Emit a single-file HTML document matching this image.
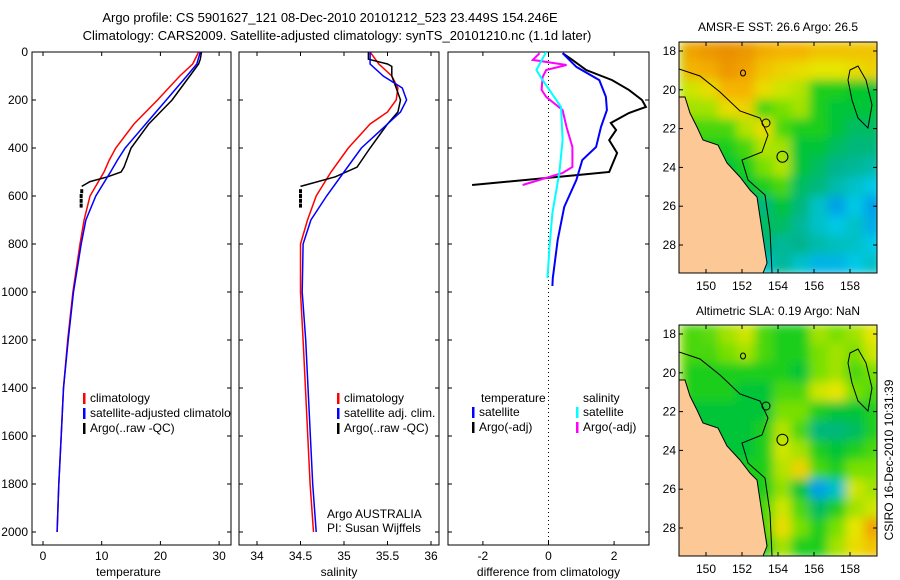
<!DOCTYPE html>
<html><head><meta charset="utf-8"><style>
html,body{margin:0;padding:0;background:#fff;}
svg{display:block;font-family:"Liberation Sans",sans-serif;}
text{font-size:12px;fill:#000;}
</style></head><body>
<svg id="fig" width="900" height="580" viewBox="0 0 900 580">
<defs>
<filter id="blur" x="0" y="0" width="1" height="1"><feGaussianBlur stdDeviation="5"/></filter>
<clipPath id="clip1"><rect x="32" y="52" width="199" height="493"/></clipPath>
<clipPath id="clip2"><rect x="239" y="52" width="200" height="493"/></clipPath>
<clipPath id="clip3"><rect x="448" y="52" width="201" height="493"/></clipPath>
<clipPath id="mclip1"><rect x="679" y="42" width="198" height="231"/></clipPath>
<clipPath id="mclip2"><rect x="679" y="325" width="198" height="231"/></clipPath>
</defs>
<text x="330" y="22" text-anchor="middle" style="font-size:13px">Argo profile: CS 5901627_121 08-Dec-2010 20101212_523 23.449S 154.246E</text>
<text x="337" y="40" text-anchor="middle" style="font-size:13px">Climatology: CARS2009. Satellite-adjusted climatology: synTS_20101210.nc (1.1d later)</text>
<text x="778" y="31" text-anchor="middle">AMSR-E SST: 26.6 Argo: 26.5</text>
<text x="778" y="315" text-anchor="middle">Altimetric SLA: 0.19 Argo: NaN</text>
<text transform="translate(893,460) rotate(-90)" text-anchor="middle">CSIRO 16-Dec-2010 10:31:39</text>
<g id="g1"></g>
<g id="g2"></g>
<g id="g3"></g>
<g id="m1"></g>
<g id="m2"></g>
</svg>
<script>
// ---- profile data ----
const tDepthClim = [0,50,100,200,300,400,450,500,600,700,800,1000,1200,1400,1600,1800,2000];
const tempClim   = [26.5,25.5,23.3,19.5,15.5,12.4,11.3,10.4,8,7,6.3,5.1,4.2,3.5,3.1,2.7,2.4];
const tempSat    = [26.8,26.2,24.5,21,17.5,14,12.7,11.5,9,7.3,6.5,5.2,4.3,3.5,3.1,2.7,2.4];
const tArgoDepth = [0,30,50,100,150,200,250,300,400,480,500,520,540,560];
const tempArgo   = [27,26.8,26.5,25,23.5,22,20,18,15,13.8,13.3,11,8,6.6];
const argoDotDepth = [580,600,620,640];
const tempArgoDots = [6.6,6.5,6.5,6.5];
const salClim  = [35.3,35.4,35.55,35.62,35.6,35.5,35.3,35.05,34.85,34.68,34.58,34.5,34.5,34.53,34.57,34.61,34.65];
const salSat   = [35.3,35.3,35.45,35.67,35.72,35.65,35.5,35.2,35.0,34.8,34.62,34.53,34.52,34.56,34.6,34.64,34.68];
const sDepth   = [0,50,100,150,200,250,300,400,500,600,700,800,1000,1200,1500,1800,2000];
const sArgoDepth = [0,30,50,60,100,150,200,250,300,400,480,520,550,560];
const salArgo  = [35.28,35.28,35.5,35.55,35.55,35.6,35.65,35.62,35.5,35.3,35.15,34.9,34.6,34.5];
const salArgoDots = [34.5,34.5,34.5,34.5];
const dTSatDepth = [5,62,117,187,242,312,396,450,533,646,783,942,975];
const dTSat      = [0.43,0.85,1.55,1.75,1.78,1.6,1.45,1.03,0.85,0.48,0.28,0.13,0.12];
const dTArgoDepth= [5,33,75,117,158,200,229,254,296,325,367,421,500,512,554];
const dTArgo     = [0.43,0.73,1.15,1.94,2.45,2.85,2.97,2.45,1.9,2.06,1.85,2.09,1.85,0.94,-2.33];
const dSSatDepth = [0,75,117,229,367,504,671,812,942];
const dSSat      = [-0.07,-0.37,-0.18,0.38,0.43,0.33,0.12,0.03,-0.03];
const dSArgoDepth= [5,33,54,75,104,158,187,242,312,396,479,504,554];
const dSArgo     = [-0.27,-0.48,0.55,-0.07,-0.18,-0.21,-0.07,0.43,0.55,0.73,0.73,0.43,-0.79];
const depthTicks = [0,200,400,600,800,1000,1200,1400,1600,1800,2000];
const tempTicks = [0,10,20,30];
const salTicks = [34,34.5,35,35.5,36];
const diffTicks = [-2,0,2];
// ---- map data ----
const lonTicks = [150,152,154,156,158];
const latTicks = [18,20,22,24,26,28];
const sstGrid = [
[0.92,0.95,0.97,0.95,0.9,0.88,0.88,0.85,0.85,0.85,0.85],
[0.88,0.9,0.95,0.92,0.85,0.82,0.8,0.78,0.78,0.8,0.82],
[0.75,0.8,0.88,0.88,0.8,0.75,0.72,0.55,0.55,0.52,0.5],
[0.7,0.7,0.8,0.82,0.6,0.65,0.7,0.55,0.5,0.5,0.5],
[0.6,0.6,0.6,0.72,0.8,0.6,0.55,0.55,0.5,0.45,0.45],
[0.55,0.55,0.55,0.6,0.72,0.7,0.5,0.5,0.45,0.42,0.42],
[0.5,0.5,0.5,0.55,0.65,0.72,0.5,0.45,0.4,0.38,0.35],
[0.5,0.5,0.5,0.5,0.55,0.6,0.45,0.42,0.35,0.3,0.25],
[0.42,0.42,0.42,0.42,0.42,0.5,0.42,0.3,0.15,0.25,0.15],
[0.45,0.45,0.45,0.45,0.45,0.45,0.38,0.3,0.25,0.3,0.18],
[0.42,0.42,0.42,0.42,0.42,0.38,0.4,0.35,0.32,0.3,0.25],
[0.3,0.3,0.3,0.3,0.3,0.38,0.3,0.2,0.2,0.25,0.3]];
const slaGrid = [
[0.6,0.62,0.7,0.75,0.6,0.55,0.55,0.7,0.65,0.7,0.78],
[0.6,0.6,0.65,0.7,0.6,0.55,0.55,0.65,0.7,0.65,0.75],
[0.55,0.55,0.55,0.55,0.55,0.55,0.5,0.65,0.7,0.6,0.65],
[0.55,0.55,0.55,0.5,0.5,0.6,0.6,0.75,0.78,0.65,0.6],
[0.5,0.5,0.5,0.5,0.5,0.65,0.65,0.55,0.5,0.5,0.55],
[0.5,0.5,0.5,0.5,0.55,0.72,0.6,0.42,0.42,0.45,0.55],
[0.5,0.5,0.5,0.5,0.55,0.75,0.7,0.55,0.5,0.55,0.6],
[0.55,0.55,0.55,0.55,0.55,0.72,0.82,0.6,0.55,0.65,0.65],
[0.55,0.55,0.55,0.55,0.55,0.68,0.5,0.15,0.3,0.75,0.7],
[0.6,0.6,0.6,0.6,0.6,0.75,0.6,0.45,0.55,0.7,0.75],
[0.6,0.6,0.6,0.6,0.6,0.8,0.65,0.55,0.65,0.78,0.92],
[0.55,0.55,0.55,0.55,0.55,0.7,0.55,0.55,0.7,0.8,0.85]];
const floatLon = 154.246, floatLat = 23.449;

const NS="http://www.w3.org/2000/svg";
function mk(parent, tag, attrs){const e=document.createElementNS(NS,tag);for(const k in attrs)e.setAttribute(k,attrs[k]);parent.appendChild(e);return e;}
const yD = d => 52 + d*0.24;

function panel(gid, x0, x1, xs, ticks, label, fmt, showDepth, clip){
  const g=document.getElementById(gid);
  const frame=mk(g,'rect',{x:x0,y:52,width:x1-x0,height:493,fill:'none',stroke:'#000','stroke-width':1});
  
  
  depthTicks.forEach(d=>{
    mk(g,'line',{x1:x0,x2:x0+4,y1:yD(d),y2:yD(d),stroke:'#000'});
    mk(g,'line',{x1:x1-4,x2:x1,y1:yD(d),y2:yD(d),stroke:'#000'});
    if(showDepth){const t=mk(g,'text',{x:x0-4,y:yD(d)+4,'text-anchor':'end'});t.textContent=d;
      
      }
  });
  ticks.forEach(v=>{
    const x=xs(v);
    mk(g,'line',{x1:x,x2:x,y1:545,y2:541,stroke:'#000'});
    mk(g,'line',{x1:x,x2:x,y1:52,y2:56,stroke:'#000'});
    const t=mk(g,'text',{x:x,y:560,'text-anchor':'middle'});t.textContent=fmt(v);
    
    
  });
  const l=mk(g,'text',{x:(x0+x1)/2+(gid==='g1'?-3:0),y:576,'text-anchor':'middle'});l.textContent=label;
  
  
  const inner=mk(g,'g',{'clip-path':'url(#'+clip+')'});
  return inner;
}
function line(g, xs, vals, depths, color, w, name){
  const pts=vals.map((v,i)=>xs(v).toFixed(1)+','+yD(depths[i]).toFixed(1)).join(' ');
  const p=mk(g,'polyline',{points:pts,fill:'none',stroke:color,'stroke-width':w});
  
  
}
function dots(g, xs, vals, depths, color, name){
  vals.forEach((v,i)=>{const r=mk(g,'rect',{x:xs(v)-1.5,y:yD(depths[i])-2,width:3,height:4,fill:color});
    
    });
}
function legend(g, x, y, items){
  items.forEach((it,i)=>{
    mk(g,'rect',{x:x,y:y+i*15-9,width:2.5,height:11,fill:it[0]});
    const t=mk(g,'text',{x:x+7,y:y+i*15});t.textContent=it[1];
    
    
  });
}
// temperature panel
const xT=v=>43+v*5.87;
const g1=panel('g1',32,231,xT,tempTicks,'temperature',v=>v,true,'clip1');
line(g1,xT,tempClim,tDepthClim,'#f00',1.5,'temp-climatology-line');
line(g1,xT,tempArgo,tArgoDepth,'#000',1.5,'temp-argo-line');
dots(g1,xT,tempArgoDots,argoDotDepth,'#000','temp-argo-dots');
line(g1,xT,tempSat,tDepthClim,'#00f',1.5,'temp-satellite-line');
legend(g1,83,402,[['#f00','climatology'],['#00f','satellite-adjusted climatology'],['#000','Argo(..raw -QC)']]);
// salinity panel
const xS=v=>257+(v-34)*87;
const g2=panel('g2',239,439,xS,salTicks,'salinity',v=>v,false,'clip2');
line(g2,xS,salClim,sDepth,'#f00',1.5,'sal-climatology-line');
line(g2,xS,salArgo,sArgoDepth,'#000',1.5,'sal-argo-line');
dots(g2,xS,salArgoDots,argoDotDepth,'#000','sal-argo-dots');
line(g2,xS,salSat,sDepth,'#00f',1.5,'sal-satellite-line');
legend(g2,337,402,[['#f00','climatology'],['#00f','satellite adj. clim.'],['#000','Argo(..raw -QC)']]);
{const t=mk(g2,'text',{x:327,y:518});t.textContent='Argo AUSTRALIA';
 const t2=mk(g2,'text',{x:327,y:532});t2.textContent='PI: Susan Wijffels';}
// difference panel
const xF=v=>548.5+v*32.8;
const g3=panel('g3',448,649,xF,diffTicks,'difference from climatology',v=>v,false,'clip3');
mk(g3,'line',{x1:xF(0),x2:xF(0),y1:52,y2:545,stroke:'#000','stroke-dasharray':'1,3'});
line(g3,xF,dTArgo,dTArgoDepth,'#000',2,'diff-temp-argo-line');
line(g3,xF,dTSat,dTSatDepth,'#00f',2,'diff-temp-satellite-line');
line(g3,xF,dSArgo,dSArgoDepth,'#f0f',2,'diff-sal-argo-line');
line(g3,xF,dSSat,dSSatDepth,'#0ff',2,'diff-sal-satellite-line');
{const t=mk(g3,'text',{x:481,y:402});t.textContent='temperature';
 const t2=mk(g3,'text',{x:583,y:402});t2.textContent='salinity';}
legend(g3,472,416,[['#00f','satellite'],['#000','Argo(-adj)']]);
legend(g3,576,416,[['#0ff','satellite'],['#f0f','Argo(-adj)']]);

// maps
const stops=[[0,[10,100,230]],[0.25,[0,200,230]],[0.4,[0,180,140]],[0.52,[0,200,40]],[0.65,[120,224,0]],[0.78,[230,230,0]],[0.88,[245,180,0]],[1,[230,130,0]]];
function cmap(v){for(let i=1;i<stops.length;i++){if(v<=stops[i][0]){const a=stops[i-1],b=stops[i],f=(v-a[0])/(b[0]-a[0]);
  return 'rgb('+a[1].map((c,k)=>Math.round(c+(b[1][k]-c)*f)).join(',')+')';}}return 'rgb(230,130,0)';}
function map(gid, y0, grid, clip){
  const g=document.getElementById(gid);
  const xL=lon=>706+(lon-150)*18, yL=lat=>y0+9+(lat-18)*19.4;
  const c=mk(g,'g',{'clip-path':'url(#'+clip+')'});
  const h=mk(c,'g',{filter:'url(#blur)'});
  mk(h,'rect',{x:679,y:y0,width:198,height:231,fill:cmap(grid[5][5])});
  grid.forEach((row,r)=>row.forEach((v,k)=>{
    const cell=mk(h,'rect',{x:xL(148.7+k*1.01)-0.5,y:yL(17.5+r*1.0)-0.5,width:19.3,height:20.4,fill:cmap(v)});
    
    
  }));
  const dy=y0-42;
  const coast=[[679,97],[685,97],[690,113],[697,127],[703,140],[718,145],[727,163],[740,177],[750,190],[757,197],[760,217],[763,237],[767,263],[763,273],[679,273]];
  const land=mk(c,'polygon',{points:coast.map(p=>p[0]+','+(p[1]+dy)).join(' '),fill:'#fcc896',stroke:'#000','stroke-width':1});
  
  
  const cont=[[679,69],[700,76],[720,92],[740,111],[760,118],[768,135],[762,152],[742,160],[748,180],[765,195],[770,230],[772,273]];
  mk(c,'polyline',{points:cont.map(p=>p[0]+','+(p[1]+dy)).join(' '),fill:'none',stroke:'#000','stroke-width':1});
  const isl=[[850,70],[858,66],[866,80],[872,105],[868,128],[858,118],[852,100],[848,80]];
  mk(c,'polygon',{points:isl.map(p=>p[0]+','+(p[1]+dy)).join(' '),fill:'none',stroke:'#000','stroke-width':1});
  mk(c,'ellipse',{cx:766,cy:123+dy,rx:4,ry:4,fill:'none',stroke:'#000'});
  mk(c,'ellipse',{cx:743,cy:73+dy,rx:2.5,ry:3,fill:'none',stroke:'#000'});
  const fl=mk(c,'circle',{cx:xL(floatLon),cy:yL(floatLat),r:5.5,fill:'none',stroke:'#000','stroke-width':1});
  
  
  mk(g,'rect',{x:679,y:y0,width:198,height:231,fill:'none',stroke:'#000'});
  lonTicks.forEach(l=>{const x=xL(l);mk(g,'line',{x1:x,x2:x,y1:y0+231,y2:y0+227,stroke:'#000'});mk(g,'line',{x1:x,x2:x,y1:y0,y2:y0+4,stroke:'#000'});
    const t=mk(g,'text',{x:x,y:y0+248,'text-anchor':'middle'});t.textContent=l;
    
    });
  latTicks.forEach(l=>{const y=yL(l);mk(g,'line',{x1:679,x2:683,y1:y,y2:y,stroke:'#000'});mk(g,'line',{x1:873,x2:877,y1:y,y2:y,stroke:'#000'});
    const t=mk(g,'text',{x:676,y:y+4,'text-anchor':'end'});t.textContent=l;
    
    });
}
map('m1',42,sstGrid,'mclip1');
map('m2',325,slaGrid,'mclip2');
</script>
</body></html>
